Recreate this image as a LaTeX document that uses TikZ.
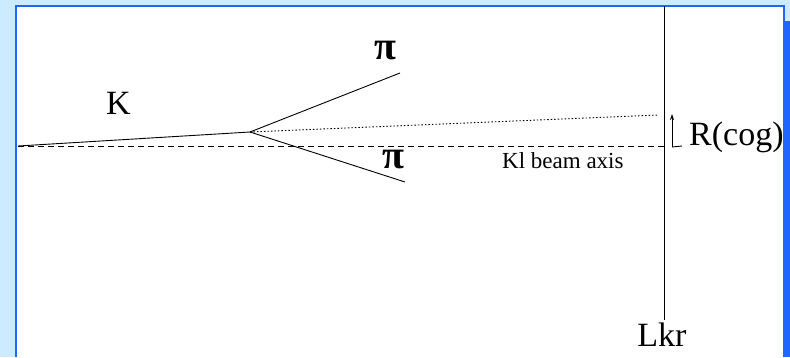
\documentclass[tikz,border=0pt]{standalone}
\usepackage{fontspec}
\setmainfont{Liberation Serif}
\usetikzlibrary{arrows.meta}
\definecolor{pagebg}{HTML}{CCEBFF}
\definecolor{frameblue}{HTML}{1F66FF}
\tikzset{
  track/.style={line width=0.9pt, black},
  axisline/.style={line width=0.9pt, black, dash pattern=on 6pt off 4pt},
  flight/.style={line width=0.9pt, black, dash pattern=on 1.5pt off 2pt},
  biglabel/.style={inner sep=0pt, font=\fontsize{34}{34}\selectfont},
  pilabel/.style={inner sep=0pt, font=\fontsize{40}{40}\selectfont\bfseries},
  smalllabel/.style={inner sep=0pt, font=\fontsize{23}{23}\selectfont},
}
\begin{document}
\begin{tikzpicture}[x=1pt, y=-1pt]
  % page and panel
  \fill[pagebg] (0,0) rectangle (790,357);
  \useasboundingbox (0,0) rectangle (790,357);
  \fill[white] (16,7) rectangle (784,357);
  \draw[frameblue, line width=2pt] (16,357) -- (16,6) -- (784,6) -- (784,357);
  \fill[frameblue] (785,21) rectangle (790,357);

  % key points
  \coordinate (kstart) at (18,146);
  \coordinate (vtx) at (250,132);
  \coordinate (piup) at (400,73);
  \coordinate (pidown) at (405,182);
  \coordinate (cog) at (658,115);
  \coordinate (axisend) at (664,146);
  \coordinate (lkrtop) at (664,6);
  \coordinate (lkrbot) at (664,320);
  \coordinate (rbase) at (672,147);
  \coordinate (rtip) at (672,114);
  \coordinate (rtick) at (682,146);

  % beam axis and detector plane
  \draw[axisline] (kstart) -- (axisend);
  \draw[track] (lkrtop) -- (lkrbot);

  % kaon and pion tracks
  \draw[track] (kstart) -- (vtx);
  \draw[track] (vtx) -- (piup);
  \draw[track] (vtx) -- (pidown);
  \draw[flight] (vtx) -- (cog);

  % R(cog) offset marker
  \draw[line width=0.9pt, -{Stealth[length=6pt, width=4pt]}] (rbase) -- (rtip);
  \draw[line width=0.9pt] (rbase) -- (rtick);

  % labels
  \node[biglabel, anchor=base west] (klab) at (106,114) {K};
  \node[pilabel, anchor=base west] (pi1) at (374,59) {π};
  \node[pilabel, anchor=base west] (pi2) at (382,168) {π};
  \node[smalllabel, anchor=base west] (beam) at (502,168) {Kl beam axis};
  \node[biglabel, anchor=base west] (rcog) at (689,145) {R(cog)};
  \node[biglabel, anchor=base] (lkr) at (662,346) {Lkr};
\end{tikzpicture}
\end{document}
